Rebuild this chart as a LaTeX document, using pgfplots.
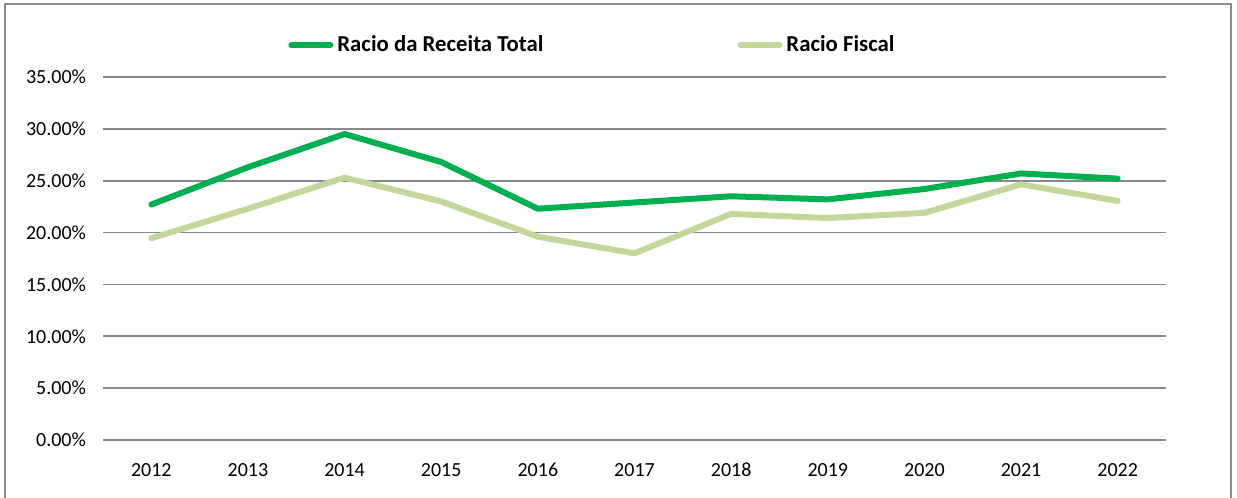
\documentclass[border=0pt]{standalone}
\usepackage{pgfplots}
\pgfplotsset{compat=1.18}
\usepackage{fontspec}
\setmainfont{Carlito}
\definecolor{dgreen}{HTML}{00B050}
\definecolor{lgreen}{HTML}{C4D79B}
\definecolor{gridc}{HTML}{898989}
\definecolor{framec}{HTML}{8C8C8C}
\begin{document}
\begin{tikzpicture}
\fontsize{10}{12}\selectfont
\path[use as bounding box] (0,0) rectangle (618.5pt,249pt);
\draw[framec, line width=1pt] (2.5pt,-1pt) -- (2.5pt,247pt) -- (615.5pt,247pt) -- (615.5pt,-1pt);
\begin{axis}[
  at={(51.5pt,29pt)}, anchor=south west,
  scale only axis, width=531.5pt, height=181.5pt,
  xmin=-0.5, xmax=10.5, ymin=0, ymax=35,
  xtick={0,...,10},
  xticklabels={2012,2013,2014,2015,2016,2017,2018,2019,2020,2021,2022},
  ytick={0,5,...,35},
  yticklabels={0.00\%,5.00\%,10.00\%,15.00\%,20.00\%,25.00\%,30.00\%,35.00\%},
  axis line style={draw=none},
  major tick length=0pt,
  ymajorgrids, grid style={gridc, line width=0.9pt},
  tick label style={font=\fontsize{10}{12}\selectfont},
  yticklabel style={anchor=east, xshift=-5pt},
  xticklabel style={anchor=north, yshift=-8pt},
  legend columns=2,
  legend style={draw=none, fill=none, at={(0.4614,1.088)}, anchor=center,
    font=\fontsize{11.4}{13}\selectfont\bfseries,
    /tikz/every even column/.append style={column sep=95pt}},
  legend image code/.code={\draw[#1, line width=3pt, line cap=round] (0pt,0pt) -- (19.5pt,0pt);},
  clip=false,
]
\addplot[dgreen, line width=3pt, line join=round, line cap=round] coordinates {
(0,22.7) (1,26.3) (2,29.5) (3,26.8) (4,22.3) (5,22.9) (6,23.5) (7,23.2) (8,24.2) (9,25.7) (10,25.2)};
\addlegendentry{Racio da Receita Total}
\addplot[lgreen, line width=3pt, line join=round, line cap=round] coordinates {
(0,19.45) (1,22.3) (2,25.3) (3,23.0) (4,19.6) (5,18.0) (6,21.8) (7,21.4) (8,21.9) (9,24.65) (10,23.05)};
\addlegendentry{Racio Fiscal}
\end{axis}
\end{tikzpicture}
\end{document}
